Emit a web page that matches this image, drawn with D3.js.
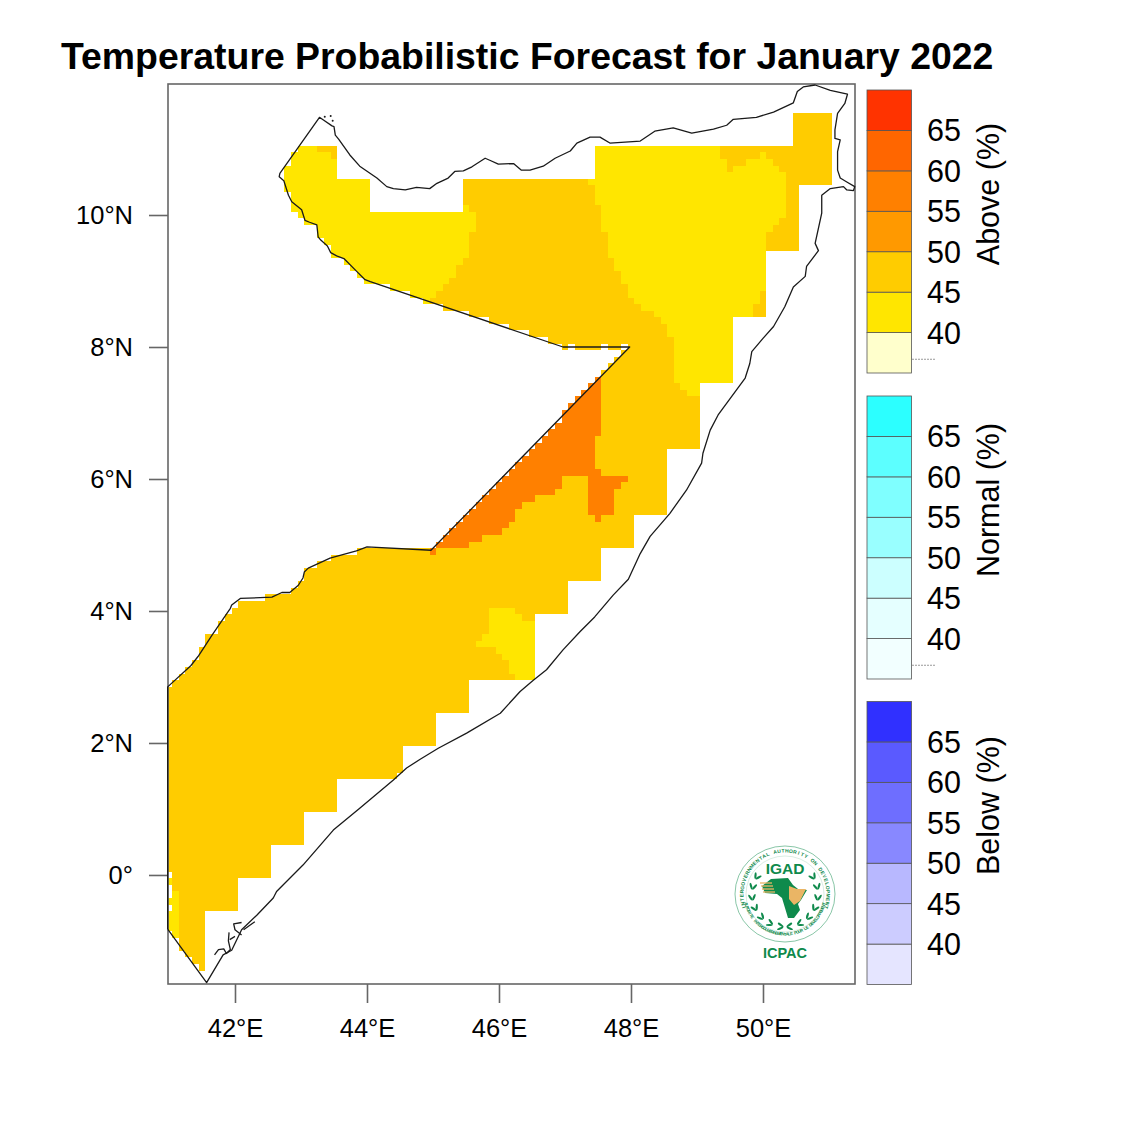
<!DOCTYPE html>
<html>
<head>
<meta charset="utf-8">
<script src="https://cdn.jsdelivr.net/npm/d3@7"></script>
<style>
  html, body { margin: 0; padding: 0; background: #fff; }
  text { font-family: "Liberation Sans", Arial, Helvetica, sans-serif; }
</style>
</head>
<body>
<script>
const latTicks = [0, 2, 4, 6, 8, 10]
const lonTicks = [42, 44, 46, 48, 50]
const legendBreaks = [40, 45, 50, 55, 60, 65]
const aboveColors = ['#ffffcc', '#ffe600', '#ffcc00', '#ff9900', '#ff8000', '#ff6600', '#ff3300']
const normalColors = ['#f2ffff', '#e5ffff', '#ccffff', '#99ffff', '#7fffff', '#5cffff', '#2cffff']
const belowColors = ['#e5e5ff', '#ccccff', '#b8b8ff', '#8888ff', '#6e6eff', '#5a5aff', '#3030ff']

// forecast probability of each class of cell
const amberValue = 47
const yellowValue = 42
const orangeValue = 57

// runs of 0.1 degree cells: [north row, south row, west edge, east edge]
const amberRuns = [
  [11.5, 11.1, 50.45, 51.05],
  [11, 11, 43.25, 43.55], [10.9, 10.9, 43.45, 43.55],
  [11, 10.6, 47.45, 51.05],
  [10.5, 10.5, 45.45, 51.05], [10.4, 10.1, 45.45, 50.55],
  [10, 9.5, 45.5, 50.55], [9.4, 8.9, 45.15, 50.05],
  [8.8, 8.8, 45.05, 50.05], [8.7, 8.7, 44.95, 50.05], [8.6, 8.6, 45.15, 50.05], [8.5, 8.5, 45.55, 50.05],
  [8.4, 8.4, 45.85, 49.55], [8.3, 8.3, 46.15, 49.55], [8.2, 8.2, 46.45, 49.55], [8.1, 8.1, 46.75, 49.55],
  [8, 8, 46.95, 47.05], [8, 8, 47.15, 47.55], [8, 8, 47.65, 47.85], [8, 8, 47.95, 49.55],
  [7.9, 7.9, 47.85, 49.55], [7.8, 7.8, 47.75, 49.55], [7.7, 7.7, 47.65, 49.55], [7.6, 7.6, 47.55, 49.55],
  [7.5, 7.5, 47.45, 49.55], [7.4, 6.7, 47.55, 49.05], [6.6, 6.5, 47.45, 49.05], [6.4, 5.5, 47.35, 48.55],
  [6, 6, 46.95, 47.35], [5.9, 5.9, 46.95, 47.35], [5.8, 5.8, 46.85, 47.35], [5.7, 5.7, 46.55, 47.35],
  [5.6, 5.6, 46.35, 47.35], [5.5, 5.5, 46.25, 47.35], [5.4, 5.4, 46.25, 48.05], [5.3, 5.3, 46.15, 48.05],
  [5.2, 5.2, 46.05, 48.05], [5.1, 5.1, 45.75, 48.05], [5, 5, 45.55, 48.05],
  [4.9, 4.9, 43.85, 47.55], [4.8, 4.8, 43.45, 47.55], [4.7, 4.7, 43.25, 47.55], [4.6, 4.5, 43.05, 47.55],
  [4.4, 4.4, 42.95, 47.05], [4.3, 4.3, 42.85, 47.05], [4.2, 4.2, 42.45, 47.05], [4.1, 4.1, 42.05, 47.05],
  [4, 4, 41.95, 47.05], [3.9, 3.9, 41.85, 46.55], [3.8, 3.7, 41.75, 46.55], [3.6, 3.5, 41.55, 46.55],
  [3.4, 3.3, 41.45, 46.55], [3.2, 3.2, 41.35, 46.55], [3.1, 3.1, 41.25, 46.55], [3, 3, 41.15, 46.55],
  [2.9, 2.9, 41.05, 45.55], [2.8, 2.5, 40.95, 45.55], [2.4, 2, 40.95, 45.05], [1.9, 1.6, 40.95, 44.55],
  [1.5, 1.5, 40.95, 44.45], [1.4, 1, 40.95, 43.55], [0.9, 0.5, 40.95, 43.05], [0.4, 0.1, 40.95, 42.55],
  [0, 0, 41.05, 42.55], [-0.1, -0.5, 41.05, 42.05], [-0.6, -0.9, 41.05, 41.55],
  [-1, -1.1, 41.15, 41.55], [-1.2, -1.2, 41.25, 41.55], [-1.3, -1.3, 41.35, 41.55], [-1.4, -1.4, 41.45, 41.55]
]

const yellowRuns = [
  [11, 11, 42.95, 43.25], [11, 11, 47.45, 49.35],
  [10.9, 10.9, 42.85, 43.45], [10.9, 10.9, 47.45, 49.35], [10.9, 10.9, 49.95, 50.05],
  [10.8, 10.8, 42.85, 43.55], [10.8, 10.8, 47.45, 49.45], [10.8, 10.8, 49.75, 50.15],
  [10.7, 10.7, 42.75, 43.55], [10.7, 10.7, 47.45, 49.45], [10.7, 10.7, 49.55, 50.25],
  [10.6, 10.6, 42.75, 43.55], [10.6, 10.6, 47.45, 50.35],
  [10.5, 10.5, 42.75, 44.05], [10.5, 10.5, 47.35, 50.35],
  [10.4, 10.4, 42.75, 44.05], [10.4, 10.2, 47.45, 50.35], [10.3, 10.1, 42.85, 44.05],
  [10.1, 10.1, 45.45, 45.55], [10.1, 10, 47.55, 50.35],
  [10, 10, 42.95, 45.65], [9.9, 9.9, 43.05, 45.65], [9.8, 9.8, 43.25, 45.65],
  [9.9, 9.9, 47.55, 50.25], [9.8, 9.8, 47.55, 50.15],
  [9.7, 9.7, 43.25, 45.55], [9.6, 9.6, 43.35, 45.55], [9.5, 9.4, 43.45, 45.55], [9.7, 9.4, 47.65, 50.05],
  [9.3, 9.3, 43.65, 45.45], [9.2, 9.2, 43.75, 45.35], [9.1, 9.1, 43.85, 45.35], [9, 9, 43.95, 45.25],
  [9.3, 9.2, 47.75, 50.05], [9.1, 9, 47.85, 50.05],
  [8.9, 8.9, 44.35, 45.15], [8.8, 8.8, 44.65, 45.05], [8.7, 8.7, 44.85, 44.95],
  [8.9, 8.9, 47.95, 50.05], [8.8, 8.8, 47.95, 49.95], [8.7, 8.7, 48.05, 49.95],
  [8.6, 8.6, 48.15, 49.85], [8.5, 8.5, 48.35, 49.85], [8.4, 8.4, 48.45, 49.55], [8.3, 8.2, 48.55, 49.55],
  [8.1, 7.5, 48.65, 49.55], [7.4, 7.4, 48.75, 49.05], [7.3, 7.3, 48.85, 49.05],
  [4, 4, 45.85, 46.25], [3.9, 3.9, 45.85, 46.35], [3.8, 3.7, 45.85, 46.55], [3.6, 3.6, 45.75, 46.55],
  [3.5, 3.5, 45.65, 46.55], [3.4, 3.4, 45.95, 46.55], [3.3, 3.3, 46.05, 46.55], [3.2, 3.1, 46.15, 46.55],
  [3, 3, 46.25, 46.55],
  [-0.1, -0.1, 40.95, 41.05], [-0.3, -0.9, 41.05, 41.15], [-0.4, -0.4, 40.95, 41.05], [-0.6, -0.8, 40.95, 41.05]
]

const orangeRuns = [
  [7.5, 7.5, 47.45, 47.55], [7.4, 7.4, 47.35, 47.55], [7.3, 7.3, 47.25, 47.55], [7.2, 7.2, 47.15, 47.55],
  [7.1, 7.1, 47.05, 47.55], [7, 6.9, 46.95, 47.55], [6.8, 6.8, 46.85, 47.55], [6.7, 6.7, 46.75, 47.55],
  [6.6, 6.6, 46.65, 47.45], [6.5, 6.5, 46.55, 47.45], [6.4, 6.4, 46.45, 47.45], [6.3, 6.3, 46.35, 47.45],
  [6.2, 6.2, 46.25, 47.45], [6.1, 6.1, 46.15, 47.55],
  [6, 6, 46.05, 46.95], [6, 6, 47.35, 47.95], [5.9, 5.9, 45.95, 46.95], [5.9, 5.9, 47.35, 47.85],
  [5.8, 5.8, 45.85, 46.85], [5.7, 5.7, 45.75, 46.55], [5.6, 5.6, 45.65, 46.35], [5.5, 5.5, 45.55, 46.25],
  [5.8, 5.5, 47.35, 47.75], [5.4, 5.4, 45.45, 46.25], [5.4, 5.4, 47.45, 47.55], [5.3, 5.3, 45.35, 46.15],
  [5.2, 5.2, 45.25, 46.05], [5.1, 5.1, 45.15, 45.75], [5, 5, 45.05, 45.55], [4.9, 4.9, 44.95, 45.05]
]

// outline of the country, lon/lat
const outline = [
  [40.98, -0.82], [40.98, 2.85], [41.33, 3.17], [41.44, 3.31], [41.65, 3.63], [41.93, 4.04], [41.95, 4.09], [42.08, 4.19],
  [42.56, 4.21], [42.71, 4.28], [42.83, 4.28], [42.96, 4.39], [43.03, 4.5], [43.05, 4.59], [43.11, 4.65], [43.44, 4.8],
  [43.84, 4.91], [44, 4.97], [44.97, 4.92], [47.98, 8], [46.97, 8], [44.05, 8.99], [43.97, 9.02], [43.84, 9.15],
  [43.65, 9.34], [43.54, 9.38], [43.45, 9.43], [43.4, 9.53], [43.3, 9.62], [43.26, 9.67], [43.24, 9.85], [43.13, 9.89],
  [43.06, 9.92], [43.01, 10.08], [42.86, 10.2], [42.81, 10.3], [42.74, 10.52], [42.67, 10.58], [42.68, 10.63], [43.28, 11.48],
  [43.34, 11.44], [43.47, 11.35], [43.5, 11.34], [43.52, 11.21], [43.57, 11.15], [43.74, 10.91], [43.89, 10.74], [44.15, 10.56],
  [44.3, 10.43], [44.4, 10.4], [44.58, 10.38], [44.75, 10.42], [44.95, 10.4], [45.06, 10.48], [45.23, 10.56], [45.33, 10.66],
  [45.46, 10.67], [45.59, 10.73], [45.79, 10.86], [45.86, 10.83], [45.99, 10.77], [46.22, 10.78], [46.34, 10.68], [46.47, 10.68],
  [46.67, 10.74], [46.85, 10.86], [47.08, 10.97], [47.18, 11.09], [47.38, 11.18], [47.53, 11.18], [47.68, 11.09], [48.14, 11.12],
  [48.36, 11.27], [48.64, 11.32], [48.92, 11.24], [49.25, 11.3], [49.45, 11.36], [49.55, 11.45], [49.9, 11.48], [50.16, 11.56],
  [50.46, 11.7], [50.52, 11.87], [50.61, 11.94], [50.79, 11.97], [51.02, 11.89], [51.28, 11.83], [51.24, 11.69], [51.13, 11.54],
  [51.09, 11.29], [51.09, 11.16], [51.17, 11.14], [51.13, 10.96], [51.13, 10.68], [51.17, 10.56], [51.27, 10.5], [51.39, 10.43],
  [51.37, 10.37], [51.27, 10.38], [51.22, 10.43], [51.02, 10.4], [50.89, 10.3], [50.89, 10.03], [50.79, 9.57], [50.84, 9.46],
  [50.66, 9.22], [50.64, 9.07], [50.46, 8.91], [50.33, 8.61], [50.16, 8.31], [50, 8.13], [49.83, 7.93], [49.8, 7.75],
  [49.73, 7.53], [49.32, 6.97], [49.2, 6.74], [49.09, 6.39], [49.07, 6.24], [48.84, 5.83], [48.59, 5.48], [48.29, 5.13],
  [48.14, 4.87], [47.96, 4.48], [47.73, 4.24], [47.45, 3.91], [47.23, 3.69], [46.97, 3.41], [46.72, 3.11], [46.52, 2.95],
  [46.32, 2.78], [46.02, 2.45], [45.51, 2.15], [45.08, 1.92], [44.8, 1.75], [44.6, 1.62], [44.4, 1.44], [43.89, 1.01],
  [43.49, 0.68], [43.03, 0.15], [42.63, -0.25], [42.58, -0.35], [42.33, -0.61], [42.1, -0.83], [41.95, -1.14], [41.82, -1.21],
  [41.57, -1.63], [40.98, -0.82]
]

// small islands off Kismayo
const islands = [
  [[41.69, -1.21], [41.75, -1.13], [41.83, -1.12], [41.87, -1.19], [41.93, -1.13], [41.9, -1], [41.91, -0.87]],
  [[41.92, -0.98], [42, -0.93]],
  [[42.1, -0.72], [41.98, -0.74], [42, -0.83], [42.1, -0.91]],
  [[42.13, -0.83], [42.3, -0.71]]
]
const islets = [[43.45, 11.5], [43.48, 11.43], [43.36, 11.49]]

const logoTopText = 'INTERGOVERNMENTAL AUTHORITY ON DEVELOPMENT'
const logoBottomText = 'AUTORITE INTERGOUVERNEMENTALE POUR LE DEVELOPPEMENT'

const width = 1125
const height = 1125
const margin = { top: 84, right: 270, bottom: 141, left: 168 }

const x = d3.scaleLinear().domain([40.985, 51.394]).range([margin.left, width - margin.right])
const y = d3.scaleLinear().domain([-1.652, 11.985]).range([height - margin.bottom, margin.top])
const probColor = d3.scaleThreshold().domain(legendBreaks).range(aboveColors)

const svg = d3.select('body').append('svg').attr('width', width).attr('height', height)

svg.append('defs').append('clipPath').attr('id', 'frame')
  .append('rect')
  .attr('x', x.range()[0]).attr('y', y.range()[1])
  .attr('width', x.range()[1] - x.range()[0]).attr('height', y.range()[0] - y.range()[1])

svg.append('text')
  .attr('x', 61).attr('y', 69)
  .attr('font-size', 37.4).attr('font-weight', 'bold')
  .text('Temperature Probabilistic Forecast for January 2022')

const cells = svg.append('g').attr('clip-path', 'url(#frame)')

const drawRuns = (runs, value) => {
  cells.append('g')
    .attr('fill', probColor(value))
    .attr('shape-rendering', 'crispEdges')
    .selectAll('rect')
    .data(runs)
    .join('rect')
    .attr('x', (d) => x(d[2]))
    .attr('y', (d) => y(d[0] + 0.05))
    .attr('width', (d) => x(d[3]) - x(d[2]))
    .attr('height', (d) => y(d[1] - 0.05) - y(d[0] + 0.05))
}

drawRuns(amberRuns, amberValue)
drawRuns(yellowRuns, yellowValue)
drawRuns(orangeRuns, orangeValue)

// frame and axes
svg.append('rect')
  .attr('x', x.range()[0]).attr('y', y.range()[1])
  .attr('width', x.range()[1] - x.range()[0]).attr('height', y.range()[0] - y.range()[1])
  .attr('fill', 'none').attr('stroke', '#666').attr('stroke-width', 1.6)

const styleAxis = (g) => {
  g.select('.domain').remove()
  g.selectAll('line').attr('stroke', '#666').attr('stroke-width', 1.6)
  g.selectAll('text')
    .attr('font-size', 25.5).attr('fill', '#000')
    .style('font-family', '"Liberation Sans", Arial, sans-serif')
}

svg.append('g')
  .attr('transform', `translate(${x.range()[0]},0)`)
  .call(d3.axisLeft(y).tickValues(latTicks).tickSize(19).tickPadding(16)
    .tickFormat((d) => (d === 0 ? '0°' : `${d}°N`)))
  .call(styleAxis)

svg.append('g')
  .attr('transform', `translate(0,${y.range()[0]})`)
  .call(d3.axisBottom(x).tickValues(lonTicks).tickSize(19).tickPadding(16)
    .tickFormat((d) => `${d}°E`))
  .call(styleAxis)

// coast and border go over the frame
const line = d3.line().x((d) => x(d[0])).y((d) => y(d[1]))

svg.append('g')
  .attr('fill', 'none').attr('stroke', '#1a1a1a').attr('stroke-width', 1.3).attr('stroke-linejoin', 'round')
  .selectAll('path')
  .data([outline, ...islands])
  .join('path')
  .attr('d', line)

svg.append('g').selectAll('circle')
  .data(islets)
  .join('circle')
  .attr('cx', (d) => x(d[0])).attr('cy', (d) => y(d[1])).attr('r', 1).attr('fill', '#1a1a1a')

// legend panels
const legendPanels = [
  { title: 'Above (%)', colors: aboveColors, top: 90, mark: true },
  { title: 'Normal (%)', colors: normalColors, top: 396, mark: true },
  { title: 'Below (%)', colors: belowColors, top: 701.5, mark: false }
]
const legendBins = [35, ...legendBreaks]

legendPanels.forEach((panel) => {
  const legendY = d3.scaleLinear().domain([35, 70]).range([panel.top + 283, panel.top])
  const g = svg.append('g')

  g.selectAll('rect')
    .data(panel.colors)
    .join('rect')
    .attr('x', 867).attr('width', 44.5)
    .attr('y', (d, i) => legendY(legendBins[i] + 5))
    .attr('height', (d, i) => legendY(legendBins[i]) - legendY(legendBins[i] + 5))
    .attr('fill', (d) => d)
    .attr('stroke', '#555').attr('stroke-width', 0.8)

  g.append('g').selectAll('text')
    .data(legendBreaks)
    .join('text')
    .attr('x', 927)
    .attr('y', (d) => legendY(d))
    .attr('dy', '0.36em')
    .attr('font-size', 30.5)
    .text((d) => d)

  g.append('text')
    .attr('transform', `translate(999,${panel.top + 104}) rotate(-90)`)
    .attr('text-anchor', 'middle')
    .attr('font-size', 30.5)
    .text(panel.title)

  if (panel.mark) {
    g.append('line')
      .attr('x1', 912).attr('x2', 936)
      .attr('y1', legendY(36.7)).attr('y2', legendY(36.7))
      .attr('stroke', '#999').attr('stroke-width', 1).attr('stroke-dasharray', '2 1')
  }
})

// ICPAC logo
const logoGreen = '#0f8a4c'
const logoOrange = '#eab565'
const logo = svg.append('g').attr('transform', 'translate(785,894)')

logo.append('ellipse').attr('rx', 50).attr('ry', 48).attr('fill', 'none').attr('stroke', logoGreen).attr('stroke-width', 0.7).attr('opacity', 0.7)
logo.append('ellipse').attr('rx', 39).attr('ry', 38).attr('fill', 'none').attr('stroke', logoGreen).attr('stroke-width', 0.4).attr('opacity', 0.4)

// ring text is set letter by letter, angles measured from the top of the ring
const ringText = (chars, fromDeg, toDeg, radius, size, flip) => {
  const letters = Array.from(chars)
  const step = (toDeg - fromDeg) / (letters.length - 1)
  logo.append('g').selectAll('text')
    .data(letters)
    .join('text')
    .attr('transform', (d, i) => `rotate(${fromDeg + i * step}) translate(0,${-radius})${flip ? ' rotate(180)' : ''}`)
    .attr('text-anchor', 'middle')
    .attr('font-size', size).attr('font-weight', 'bold').attr('fill', logoGreen)
    .text((d) => d)
}
ringText(logoTopText, -108, 108, 41.5, 5, false)
ringText(logoBottomText, 256, 104, 41.5, 4.3, true)

logo.append('text').attr('y', -20).attr('text-anchor', 'middle')
  .attr('font-size', 15.5).attr('font-weight', 'bold').attr('fill', logoGreen).text('IGAD')
logo.append('text').attr('y', 64).attr('text-anchor', 'middle')
  .attr('font-size', 14.5).attr('font-weight', 'bold').attr('fill', logoGreen).text('ICPAC')

// wreath leaves
;[-1, 1].forEach((side) => {
  d3.range(0, 7).forEach((i) => {
    const deg = 172 - i * 19
    const rad = (deg * Math.PI) / 180
    ;[-1, 1].forEach((tilt) => {
      const r = 33 + tilt * 1.8
      logo.append('ellipse')
        .attr('transform', `translate(${side * r * Math.sin(rad)},${-r * Math.cos(rad)}) rotate(${side * (deg - 90 + tilt * 28)})`)
        .attr('rx', 1.1).attr('ry', 3.4).attr('fill', logoGreen)
    })
  })
})

logo.append('path')
  .attr('d', 'M-14,-15 L3,-16 L8,-9 L13,-5 L22,-4 L16,6 L13,10 L15,16 L9,24 L3,24 L0,14 L-3,4 L-8,0 L-20,-1 L-23,-8 Z')
  .attr('fill', logoGreen)
logo.append('path')
  .attr('d', 'M4,-8 L12,-5 L21,-5 L15,7 L9,11 L4,5 Z')
  .attr('fill', logoOrange)
d3.range(0, 4).forEach((i) => {
  logo.append('line')
    .attr('x1', -25 + i).attr('x2', -13 + i).attr('y1', -11 + i * 3).attr('y2', -11 + i * 3)
    .attr('stroke', logoOrange).attr('stroke-width', 1.3)
})
</script>
</body>
</html>
